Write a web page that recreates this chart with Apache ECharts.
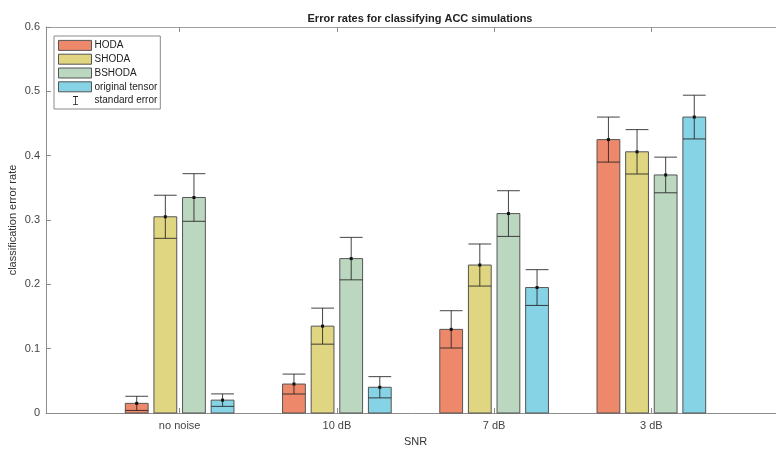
<!DOCTYPE html>
<html>
<head>
<meta charset="utf-8">
<script src="https://cdn.jsdelivr.net/npm/echarts@6/dist/echarts.min.js"></script>
<style>
  html, body { margin: 0; padding: 0; background: #fff; }
  #chart { width: 776px; height: 449px; }
</style>
</head>
<body>
<div id="chart"></div>
<script>
// categories on the x axis
const categories = ["no noise", "10 dB", "7 dB", "3 dB"]
const seriesNames = ["HODA", "SHODA", "BSHODA", "original tensor"]
const colors = ["#ee886b", "#e0d682", "#bcd7c0", "#86d3e5"]

// mean error rates, one array per method
const hoda = [0.015, 0.045, 0.13, 0.425]
const shoda = [0.305, 0.135, 0.23, 0.406]
const bshoda = [0.335, 0.24, 0.31, 0.37]
const original = [0.02, 0.04, 0.195, 0.46]

// standard errors
const hodaErr = [0.011, 0.0155, 0.029, 0.035]
const shodaErr = [0.0335, 0.028, 0.0327, 0.0345]
const bshodaErr = [0.037, 0.033, 0.0355, 0.0277]
const originalErr = [0.0097, 0.0165, 0.0278, 0.034]

const yTicks = [0, 0.1, 0.2, 0.3, 0.4, 0.5, 0.6]

const means = [hoda, shoda, bshoda, original]
const errs = [hodaErr, shodaErr, bshodaErr, originalErr]

// matlab style grouped bars: group width 4/5.5, bar 80% of slot
const slot = 0.182
const barW = 0.145

function makeRender(k) {
  return function (params, api) {
    const x = api.value(0) + (k - 1.5) * slot
    const v = api.value(1)
    const e = api.value(2)
    const p0 = api.coord([x - barW / 2, v])
    const p1 = api.coord([x + barW / 2, 0])
    const top = api.coord([x, v + e])
    const bot = api.coord([x, v - e])
    const mid = api.coord([x, v])
    const capL = p0[0]
    const capR = p1[0]
    const ln = { stroke: "#222", lineWidth: 1, opacity: 0.85 }
    return {
      type: "group",
      children: [
        {
          type: "rect",
          shape: { x: p0[0], y: p0[1], width: p1[0] - p0[0], height: p1[1] - p0[1] },
          style: { fill: colors[k], stroke: "#555", lineWidth: 1 },
        },
        { type: "line", shape: { x1: mid[0], y1: top[1], x2: mid[0], y2: bot[1] }, style: ln },
        { type: "line", shape: { x1: capL, y1: top[1], x2: capR, y2: top[1] }, style: ln },
        { type: "line", shape: { x1: capL, y1: bot[1], x2: capR, y2: bot[1] }, style: ln },
        { type: "rect", shape: { x: mid[0] - 1.5, y: mid[1] - 1.5, width: 3, height: 3 }, style: { fill: "#111" } },
      ],
    }
  }
}

const series = seriesNames.map((name, k) => ({
  name: name,
  type: "custom",
  renderItem: makeRender(k),
  itemStyle: { color: colors[k], borderColor: "#555", borderWidth: 1 },
  encode: { x: 0, y: 1 },
  data: categories.map((c, i) => [i + 1, means[k][i], errs[k][i]]),
}))

// empty series, only for the legend entry
series.push({
  name: "standard error",
  type: "custom",
  renderItem: () => null,
  data: [],
})

const errIcon =
  "path://M0 0h0.01v0.01h-0.01z M32.99 9.99h0.01v0.01h-0.01z " +
  "M14.5 0.5h5v0.8h-5z M16.6 0.5h0.8v9h-0.8z M14.5 8.7h5v0.8h-5z"

const chart = echarts.init(document.getElementById("chart"))
chart.setOption({
  animation: false,
  textStyle: { fontFamily: "Liberation Sans, Arial, sans-serif" },
  title: {
    text: "Error rates for classifying ACC simulations",
    left: 415,
    textAlign: "center",
    top: 8,
    textStyle: { fontSize: 11, fontWeight: "bold", color: "#222" },
  },
  legend: {
    orient: "vertical",
    left: 54,
    top: 36,
    padding: [3, 3, 2, 4],
    borderColor: "#8a8a8a",
    borderWidth: 1,
    backgroundColor: "#fff",
    itemWidth: 33,
    itemHeight: 10,
    itemGap: 1,
    textStyle: { fontSize: 10, color: "#222", lineHeight: 12.8, padding: [0, 0, 0, -2] },
    data: seriesNames
      .map((n, k) => ({ name: n, icon: "rect", itemStyle: { color: colors[k], borderColor: "#555", borderWidth: 1 } }))
      .concat([{ name: "standard error", icon: errIcon, itemStyle: { color: "#222", borderWidth: 0 } }]),
  },
  grid: { left: 46, top: 27, width: 739, height: 386, containLabel: false, outerBoundsMode: "none" },
  xAxis: [
    {
      type: "value",
      min: 0.15,
      max: 4.85,
      name: "SNR",
      nameLocation: "middle",
      nameGap: 23,
      nameMoveOverlap: false,
      nameTextStyle: { fontSize: 11, color: "#333" },
      splitLine: { show: false },
      axisLine: { lineStyle: { color: "#8c8c8c" } },
      axisTick: { inside: true, length: 5, customValues: [1, 2, 3, 4], lineStyle: { color: "#8c8c8c" } },
      axisLabel: {
        customValues: [1, 2, 3, 4],
        formatter: (v) => categories[Math.round(v) - 1],
        fontSize: 11,
        color: "#444",
        margin: 7,
      },
    },
    {
      type: "value",
      position: "top",
      min: 0.15,
      max: 4.85,
      splitLine: { show: false },
      axisLine: { lineStyle: { color: "#a0a0a0" } },
      axisTick: { inside: true, length: 5, customValues: [1, 2, 3, 4], lineStyle: { color: "#8c8c8c" } },
      axisLabel: { show: false },
    },
  ],
  yAxis: {
    type: "value",
    min: yTicks[0],
    max: yTicks[yTicks.length - 1],
    interval: 0.1,
    name: "classification error rate",
    nameLocation: "middle",
    nameGap: 28,
    nameMoveOverlap: false,
    nameTextStyle: { fontSize: 11, color: "#333" },
    splitLine: { show: false },
    axisLine: { show: true, lineStyle: { color: "#8c8c8c" } },
    axisTick: { show: true, inside: true, length: 5, lineStyle: { color: "#8c8c8c" } },
    axisLabel: {
      fontSize: 11,
      color: "#444",
      margin: 6,
      formatter: (v) => String(Math.round(v * 10) / 10),
    },
  },
  series: series,
})
</script>
</body>
</html>
